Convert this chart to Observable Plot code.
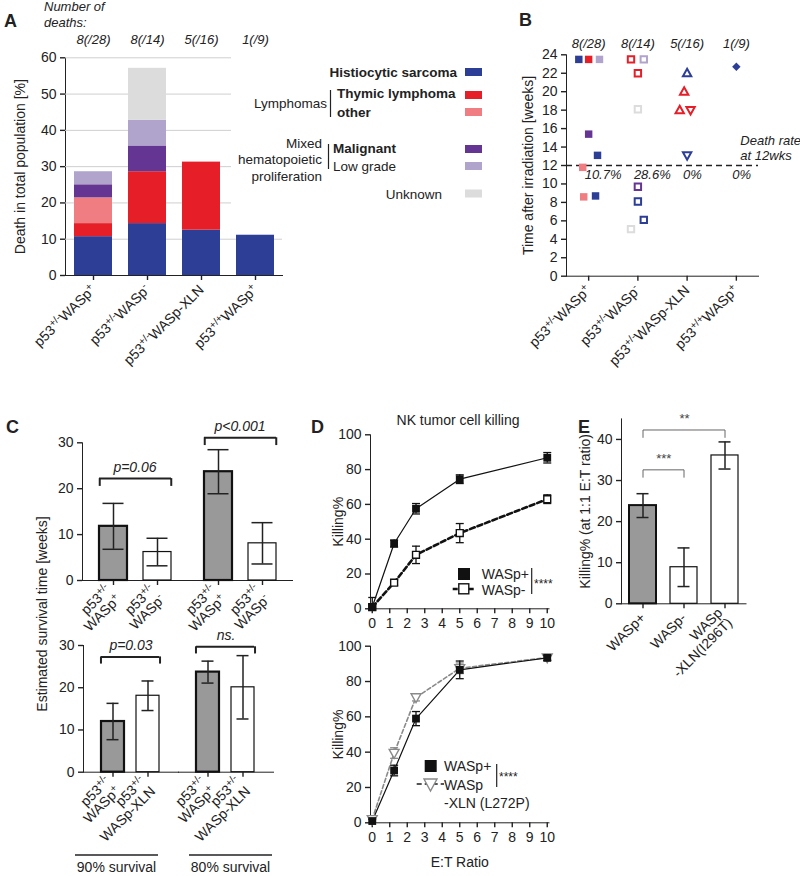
<!DOCTYPE html>
<html>
<head>
<meta charset="utf-8">
<script src="https://cdn.jsdelivr.net/npm/d3@7"></script>
<script src="https://cdn.jsdelivr.net/npm/@observablehq/plot@0.6"></script>
<style>
  html, body { margin: 0; padding: 0; background: #fff; }
  #root { position: relative; width: 800px; height: 876px; overflow: hidden; font-family: "Liberation Sans", Arial, sans-serif; color: #222; }
  #root > svg { position: absolute; overflow: visible; }
  #root svg [aria-label$="-axis tick"] * { stroke-width: 1.4px; }
</style>
</head>
<body>
<div id="root"></div>
<script>
// ================= DATA =================
// Panel A / B shared categories
const genotypes = ["p53+/-WASp+", "p53+/-WASp-", "p53+/-WASp-XLN", "p53+/+WASp+"];
const genotypeLabels = ["p53^{+/-}WASp^{+}", "p53^{+/-}WASp^{-}", "p53^{+/-}WASp-XLN", "p53^{+/+}WASp^{+}"];
const deathCounts = ["8(/28)", "8(/14)", "5(/16)", "1(/9)"];
const diseases = ["Histiocytic sarcoma", "Thymic lymphoma", "other", "Malignant", "Low grade", "Unknown"];
const diseaseColors = ["#2d3e97", "#e61e28", "#f07d82", "#653594", "#b1a4cc", "#dcdcdc"];

// Panel A: death in total population [%] per disease
const histiocyticSarcoma = [10.7, 14.3, 12.5, 11.1];
const thymicLymphoma = [3.6, 14.3, 18.75, 0];
const otherLymphoma = [7.1, 0, 0, 0];
const malignantMHP = [3.6, 7.1, 0, 0];
const lowGradeMHP = [3.6, 7.1, 0, 0];
const unknownCause = [0, 14.3, 0, 0];
const aTicks = [0, 10, 20, 30, 40, 50, 60];

// Panel B: time of death after irradiation [weeks], one entry per mouse
const bGenotypeIdx = [0,0,0,0,0,0,0,0, 1,1,1,1,1,1,1,1, 2,2,2,2,2, 3];
const bJitter =      [-0.2,0,0.22,0,0.18,-0.12,-0.1,0.14, -0.14,0.12,0,0,0,0,0.12,-0.14, 0,-0.06,-0.15,0.07,0, 0];
const bWeeks =       [23.5,23.5,23.5,15.4,13.1,11.8,8.6,8.7, 23.5,23.5,22.0,18.1,9.7,8.1,6.1,5.1, 22.0,20.0,18.0,18.0,13.1, 22.7];
const bDisease = ["Histiocytic sarcoma","Thymic lymphoma","Low grade","Malignant","Histiocytic sarcoma","other","other","Histiocytic sarcoma",
  "Thymic lymphoma","Low grade","Thymic lymphoma","Unknown","Malignant","Histiocytic sarcoma","Histiocytic sarcoma","Unknown",
  "Histiocytic sarcoma","Thymic lymphoma","Thymic lymphoma","Thymic lymphoma","Histiocytic sarcoma",
  "Histiocytic sarcoma"];
const bMarker = ["square","square","square","square","square","square","square","square",
  "square","square","square","square","square","square","square","square",
  "triangle","triangle","triangle","triangleDown","triangleDown",
  "diamond"];
const deathRateCutoff = 12;
const deathRateAt12wks = ["10.7%", "28.6%", "0%", "0%"];
const bTicks = [0,2,4,6,8,10,12,14,16,18,20,22,24];

// Panel C: estimated survival time [weeks]
const survivalGroups = ["90% survival", "80% survival"];
const cTopGenotypes = ["p53^{+/-}\nWASp^{+}", "p53^{+/-}\nWASp^{-}"];
const cTopMean90 = [11.8, 6.2], cTopErr90 = [5.0, 3.0];
const cTopMean80 = [23.7, 8.1], cTopErr80 = [4.8, 4.5];
const cTopPValues = ["p=0.06", "p<0.001"];
const cTopBracketAt = [22.2, 31.1];
const cBottomGenotypes = ["p53^{+/-}\nWASp^{+}", "p53^{+/-}\nWASp-XLN"];
const cBottomMean90 = [12.0, 18.1], cBottomErr90 = [4.3, 3.5];
const cBottomMean80 = [23.7, 20.1], cBottomErr80 = [2.6, 7.5];
const cBottomPValues = ["p=0.03", "ns."];
const cBottomBracketAt = [27.3, 29.7];
const cTicks = [0, 10, 20, 30];

// Panel D: NK tumor cell killing
const etRatio = [0, 1.25, 2.5, 5, 10];
const nkWaspPlus = [1, 37.5, 57.5, 74.5, 86.8];
const nkWaspPlusSem = [1.5, 2, 3, 2.5, 3];
const nkWaspMinus = [1, 15, 31, 43.5, 63];
const nkWaspMinusSem = [5.5, 1.5, 5, 5.5, 2.5];
const nk2WaspPlus = [1, 29.6, 59, 86.6, 93.4];
const nk2WaspPlusSem = [1, 3, 4, 5, 1.5];
const nk2Xln = [2, 39.5, 71, 87.5, 93.6];
const nk2XlnSem = [1, 3, 2, 3, 1.5];
const dXTicks = [0,1,2,3,4,5,6,7,8,9,10];
const dYTicks = [0, 20, 40, 60, 80, 100];

// Panel E: killing at 1:1 E:T ratio
const eGenotypes = ["WASp+", "WASp-", "WASp\n-XLN(I296T)"];
const eKilling = [23.9, 8.9, 36.1];
const eKillingErr = [2.9, 4.7, 3.3];
const eComparisons = [["WASp+", "WASp-"], ["WASp+", "WASp\n-XLN(I296T)"]];
const eSignificance = ["***", "**"];
const eBracketAt = [32.6, 42.3];
const eTicks = [0, 10, 20, 30, 40];

// ================= HELPERS =================
const FONT = '"Liberation Sans", Arial, sans-serif';
const INK = "#222";
const ROOT = document.getElementById("root");
const baseStyle = {fontFamily: FONT, fontSize: "14px", color: INK, background: "transparent", overflow: "visible"};

function applySup(root) {
  const NS = "http://www.w3.org/2000/svg";
  const nodes = Array.from(root.querySelectorAll("text, tspan")).filter(n => n.childElementCount === 0 && n.textContent.includes("^{"));
  for (const n of nodes) {
    const s = n.textContent; n.textContent = "";
    const re = /\^\{([^}]*)\}/g; let last = 0, m;
    const add = (t, sup) => {
      if (!t) return;
      const ts = document.createElementNS(NS, "tspan");
      ts.textContent = t;
      if (sup) { ts.setAttribute("font-size", "72%"); ts.setAttribute("baseline-shift", "super"); }
      n.appendChild(ts);
    };
    while ((m = re.exec(s))) { add(s.slice(last, m.index), false); add(m[1], true); last = re.lastIndex; }
    add(s.slice(last), false);
  }
}
function mount(svg, left, top) {
  svg.style.position = "absolute";
  svg.style.left = left + "px";
  svg.style.top = top + "px";
  ROOT.appendChild(svg);
  applySup(svg);
  svg.querySelectorAll('[aria-label$="-axis label"] text').forEach(t => t.setAttribute("font-size", "14px"));
  return svg;
}
const triUp = {draw(ctx, size) { const r = Math.sqrt(size / Math.PI); ctx.moveTo(0, -r); ctx.lineTo(r * 0.95, r * 0.7); ctx.lineTo(-r * 0.95, r * 0.7); ctx.closePath(); }};
const triDown = {draw(ctx, size) { const r = Math.sqrt(size / Math.PI); ctx.moveTo(0, r); ctx.lineTo(r * 0.95, -r * 0.7); ctx.lineTo(-r * 0.95, -r * 0.7); ctx.closePath(); }};
const capSymbol = {draw(ctx) { ctx.moveTo(-4, 0); ctx.lineTo(4, 0); }};

// ================= PANEL A =================
const aSeries = [histiocyticSarcoma, thymicLymphoma, otherLymphoma, malignantMHP, lowGradeMHP, unknownCause];
const aRows = [];
aSeries.forEach((vals, k) => genotypes.forEach((g, i) => aRows.push({g, disease: diseases[k], v: vals[i]})));
mount(Plot.plot({
  width: 292, height: 395, marginLeft: 65, marginRight: 10, marginTop: 57.3, marginBottom: 120,
  style: baseStyle,
  x: {domain: genotypes, paddingInner: 0.3, paddingOuter: 0.15, tickRotate: -45, tickSize: 5,
      tickFormat: d => genotypeLabels[genotypes.indexOf(d)], label: null, line: true},
  y: {domain: [0, 60], ticks: aTicks, tickSize: 5, label: "Death in total population [%]",
      labelAnchor: "center", labelOffset: 50, labelArrow: "none", line: true},
  color: {domain: diseases, range: diseaseColors},
  marks: [
    Plot.gridY({ticks: aTicks.slice(1), stroke: "#cfcfcf", strokeOpacity: 1}),
    Plot.barY(aRows, {x: "g", y: "v", fill: "disease"}),
    Plot.text(genotypes, {x: d => d, y: () => 60, dy: -18, text: d => deathCounts[genotypes.indexOf(d)], fontStyle: "italic", fontSize: 13})
  ]
}), 0, 0);

// ================= PANEL B =================
const bRows = bWeeks.map((w, i) => ({
  x: bGenotypeIdx[i] + bJitter[i], w,
  color: diseaseColors[diseases.indexOf(bDisease[i])],
  marker: bMarker[i],
  filled: genotypes[bGenotypeIdx[i]].endsWith("WASp+")
}));
const symbols = {square: d3.symbolSquare, triangle: triUp, triangleDown: triDown, diamond: d3.symbolDiamond2};
const markerR = {square: 4.2, triangle: 5, triangleDown: 5, diamond: 3.8};
const bMarks = [];
for (const m of Object.keys(symbols)) {
  const f = bRows.filter(d => d.marker === m && d.filled);
  const o = bRows.filter(d => d.marker === m && !d.filled);
  if (f.length) bMarks.push(Plot.dot(f, {x: "x", y: "w", symbol: symbols[m], r: markerR[m], fill: "color", stroke: "none"}));
  if (o.length) bMarks.push(Plot.dot(o, {x: "x", y: "w", symbol: symbols[m], r: markerR[m] - 0.6, fill: "white", stroke: "color", strokeWidth: 2}));
}
mount(Plot.plot({
  width: 320, height: 400, marginLeft: 86, marginRight: 42, marginTop: 54.3, marginBottom: 124.3,
  style: baseStyle,
  x: {domain: [-0.45, 3.45], ticks: [0, 1, 2, 3], tickFormat: i => genotypeLabels[i], tickRotate: -45, tickSize: 5, label: null, line: true},
  y: {domain: [0, 24], ticks: bTicks, tickSize: 5, label: "Time after irradiation [weeks]",
      labelAnchor: "center", labelOffset: 43, labelArrow: "none", line: true},
  marks: [
    Plot.ruleY([deathRateCutoff], {strokeDasharray: "6,4", strokeWidth: 1.6, stroke: INK}),
    ...bMarks,
    Plot.text(deathCounts, {x: (d, i) => i, y: () => 24, dy: -11, text: d => d, fontStyle: "italic", fontSize: 13}),
    Plot.text(deathRateAt12wks, {x: (d, i) => i, y: () => deathRateCutoff, dy: 9, dx: -4, text: d => d, textAnchor: "start", fontStyle: "italic", fontSize: 13}),
    Plot.text(["Death rate\nat 12wks"], {x: () => 3, y: () => deathRateCutoff, dx: 4, dy: -6, text: d => d, lineAnchor: "bottom", lineHeight: 1.15, textAnchor: "start", fontStyle: "italic", fontSize: 13})
  ]
}), 480, 0);

// ================= PANEL C =================
function survivalPlot(genos, mean90, err90, mean80, err80, pvals, bracketAt, o) {
  const rows = [];
  [[mean90, err90], [mean80, err80]].forEach(([m, e], gi) =>
    genos.forEach((g, i) => rows.push({group: survivalGroups[gi], geno: g, mean: m[i], err: e[i], plus: i === 0})));
  const br = survivalGroups.map((group, gi) => ({group, y: bracketAt[gi], label: pvals[gi]}));
  const facetW = (o.width - 82 - o.marginRight) / 2;
  const step = facetW / (2 - o.pi + 2 * o.po);
  const half = step * (1 - o.pi) / 2;
  return Plot.plot({
    width: o.width, height: o.height, marginLeft: 82, marginRight: o.marginRight, marginTop: o.marginTop, marginBottom: o.marginBottom,
    style: baseStyle,
    fx: {domain: survivalGroups, padding: 0, axis: null},
    x: {domain: genos, paddingInner: o.pi, paddingOuter: o.po, tickRotate: -45, tickSize: 5, label: null, line: true},
    y: {domain: [0, 30], ticks: cTicks, tickSize: 5, label: null, line: true},
    marks: [
      Plot.barY(rows, {fx: "group", x: "geno", y: "mean", fill: d => d.plus ? "#999999" : "white", stroke: "#111", strokeWidth: d => d.plus ? 2.2 : 1.2}),
      Plot.ruleX(rows, {fx: "group", x: "geno", y1: d => d.mean - d.err, y2: d => d.mean + d.err, stroke: INK, strokeWidth: 1.5}),
      Plot.tickY(rows, {fx: "group", x: "geno", y: d => d.mean + d.err, insetLeft: o.capInset, insetRight: o.capInset, stroke: INK, strokeWidth: 1.5}),
      Plot.tickY(rows, {fx: "group", x: "geno", y: d => d.mean - d.err, insetLeft: o.capInset, insetRight: o.capInset, stroke: INK, strokeWidth: 1.5}),
      Plot.ruleY(br, {fx: "group", y: "y", x1: () => genos[0], x2: () => genos[1], stroke: INK, strokeWidth: 2}),
      Plot.ruleX(br, {fx: "group", x: () => genos[0], y1: d => d.y - o.drop, y2: "y", dx: -half, stroke: INK, strokeWidth: 2}),
      Plot.ruleX(br, {fx: "group", x: () => genos[1], y1: d => d.y - o.drop, y2: "y", dx: half, stroke: INK, strokeWidth: 2}),
      Plot.text(br, {fx: "group", y: "y", text: "label", dy: -11, frameAnchor: "middle", fontStyle: "italic", fontSize: 14})
    ]
  });
}
mount(survivalPlot(cTopGenotypes, cTopMean90, cTopErr90, cTopMean80, cTopErr80, cTopPValues, cTopBracketAt,
  {width: 300, height: 240, marginRight: 8, marginTop: 42.3, marginBottom: 60, pi: 0.375, po: 0.38, capInset: 3.5, drop: 1.7}), 0, 400);
mount(survivalPlot(cBottomGenotypes, cBottomMean90, cBottomErr90, cBottomMean80, cBottomErr80, cBottomPValues, cBottomBracketAt,
  {width: 290, height: 215, marginRight: 17, marginTop: 15, marginBottom: 73.3, pi: 0.333, po: 0.49, capInset: 5.5, drop: 1.7}), 0, 630);

// ================= PANEL D =================
const styleWaspPlus = {color: "#111", lineWidth: 1.2, dash: null, symbol: d3.symbolSquare, r: 4.4, filled: true};
const styleWaspMinus = {color: "#111", lineWidth: 2.6, dash: "5,3", symbol: d3.symbolSquare, r: 3.9, filled: false};
const styleXln = {color: "#8a8a8a", lineWidth: 1.6, dash: "4,2.5", symbol: triDown, r: 5.2, filled: false};
function killingPlot(seriesList, o) {
  const marks = [];
  const rowsOf = s => etRatio.map((et, i) => ({et, k: s.values[i], e: s.errs[i]}));
  for (const s of seriesList) {
    const st = s.style;
    marks.push(Plot.line(rowsOf(s), {x: "et", y: "k", stroke: st.color, strokeWidth: st.lineWidth, strokeDasharray: st.dash || undefined}));
  }
  for (const s of seriesList) {
    const st = s.style, rows = rowsOf(s);
    marks.push(Plot.ruleX(rows, {x: "et", y1: d => Math.max(0, d.k - d.e), y2: d => d.k + d.e, stroke: st.color, strokeWidth: 1.3}));
    marks.push(Plot.dot(rows, {x: "et", y: d => d.k + d.e, symbol: capSymbol, fill: "none", stroke: st.color, strokeWidth: 1.3}));
    marks.push(Plot.dot(rows.filter(d => d.k - d.e > 0), {x: "et", y: d => d.k - d.e, symbol: capSymbol, fill: "none", stroke: st.color, strokeWidth: 1.3}));
    marks.push(Plot.dot(rows, {x: "et", y: "k", symbol: st.symbol, r: st.r, fill: st.filled ? st.color : "white", stroke: st.filled ? "none" : st.color, strokeWidth: 1.4}));
  }
  return Plot.plot({
    width: 260, height: o.height, marginLeft: 70, marginRight: 11.5, marginTop: o.marginTop, marginBottom: o.marginBottom,
    style: baseStyle,
    x: {domain: [-0.1, 10.1], ticks: dXTicks, tickSize: 5, line: true, label: o.xLabel || null, labelAnchor: "center", labelOffset: 44, labelArrow: "none"},
    y: {domain: [0, 100], ticks: dYTicks, tickSize: 5, line: true, label: "Killing%", labelAnchor: "center", labelOffset: 37, labelArrow: "none"},
    marks
  });
}
mount(killingPlot([
  {name: "WASp-", values: nkWaspMinus, errs: nkWaspMinusSem, style: styleWaspMinus},
  {name: "WASp+", values: nkWaspPlus, errs: nkWaspPlusSem, style: styleWaspPlus}
], {height: 245, marginTop: 34.3, marginBottom: 36.7}), 300, 400);
mount(killingPlot([
  {name: "WASp-XLN (L272P)", values: nk2Xln, errs: nk2XlnSem, style: styleXln},
  {name: "WASp+", values: nk2WaspPlus, errs: nk2WaspPlusSem, style: styleWaspPlus}
], {height: 246, marginTop: 15.7, marginBottom: 53.7, xLabel: "E:T Ratio"}), 300, 630);

// ================= PANEL E =================
const eRows = eGenotypes.map((g, i) => ({g, m: eKilling[i], e: eKillingErr[i], plus: i === 0}));
const eBr = eComparisons.flatMap(([a, b], i) => [
  {z: i, x: a, y: eBracketAt[i] - 1.8}, {z: i, x: a, y: eBracketAt[i]},
  {z: i, x: b, y: eBracketAt[i]}, {z: i, x: b, y: eBracketAt[i] - 1.8}]);
const eW = 225, eML = 46, eMR = 54.5, ePI = 0.33, ePO = 0.165;
const eStep = (eW - eML - eMR) / (eGenotypes.length - ePI + 2 * ePO);
mount(Plot.plot({
  width: eW, height: 280, marginLeft: eML, marginRight: eMR, marginTop: 18.4, marginBottom: 76.7,
  style: baseStyle,
  x: {domain: eGenotypes, paddingInner: ePI, paddingOuter: ePO, tickRotate: -45, tickSize: 5, label: null, line: true},
  y: {domain: [0, 45], ticks: eTicks, tickSize: 5, line: true, label: "Killing% (at 1:1 E:T ratio)", labelAnchor: "center", labelOffset: 41, labelArrow: "none"},
  marks: [
    Plot.barY(eRows, {x: "g", y: "m", fill: d => d.plus ? "#999999" : "white", stroke: "#111", strokeWidth: d => d.plus ? 2 : 1.2}),
    Plot.ruleX(eRows, {x: "g", y1: d => d.m - d.e, y2: d => d.m + d.e, stroke: INK, strokeWidth: 1.5}),
    Plot.tickY(eRows, {x: "g", y: d => d.m + d.e, insetLeft: 7.5, insetRight: 7.5, stroke: INK, strokeWidth: 1.5}),
    Plot.tickY(eRows, {x: "g", y: d => d.m - d.e, insetLeft: 7.5, insetRight: 7.5, stroke: INK, strokeWidth: 1.5}),
    Plot.line(eBr, {x: "x", y: "y", z: "z", stroke: "#666", strokeWidth: 1}),
    ...eComparisons.map(([a, b], i) => Plot.text([eSignificance[i]], {
      x: () => a, y: () => eBracketAt[i], text: d => d, dy: -11,
      dx: (eGenotypes.indexOf(b) - eGenotypes.indexOf(a)) * eStep / 2, fontSize: 13, fill: "#444"}))
  ]
}), 575, 400);

// ================= OVERLAY: panel letters, legends, annotations =================
const ov = d3.create("svg").attr("width", 800).attr("height", 876)
  .style("left", "0px").style("top", "0px").style("font-family", FONT).attr("fill", INK);
function txt(x, y, s, a = {}) {
  const e = ov.append("text").attr("x", x).attr("y", y).attr("font-size", a.size || 14).text(s);
  if (a.anchor) e.attr("text-anchor", a.anchor);
  if (a.bold) e.attr("font-weight", "bold");
  if (a.italic) e.attr("font-style", "italic");
  if (a.fill) e.attr("fill", a.fill);
  return e;
}
function seg(x1, y1, x2, y2, w = 1.3, color = INK, dash = null) {
  const e = ov.append("line").attr("x1", x1).attr("y1", y1).attr("x2", x2).attr("y2", y2).attr("stroke", color).attr("stroke-width", w);
  if (dash) e.attr("stroke-dasharray", dash);
  return e;
}
// Panel A legend (white box covers the upper gridlines)
ov.append("rect").attr("x", 231).attr("y", 50).attr("width", 265).attr("height", 165).attr("fill", "white");
const legendSwatchY = [72, 95, 112, 149, 166, 193.5];
diseases.forEach((d, i) => ov.append("rect").attr("x", 465).attr("y", legendSwatchY[i] - 4).attr("width", 17).attr("height", 8).attr("fill", diseaseColors[i]));
txt(457, 76.5, diseases[0], {anchor: "end", bold: true, size: 13.5});
txt(327, 107.5, "Lymphomas", {anchor: "end", size: 13.5});
seg(330.5, 90, 330.5, 117, 1.2);
txt(337, 98, diseases[1], {bold: true, size: 13.5});
txt(337, 117, diseases[2], {bold: true, size: 13.5});
txt(322, 147.5, "Mixed", {anchor: "end", size: 13.5});
txt(322, 164, "hematopoietic", {anchor: "end", size: 13.5});
txt(322, 180.5, "proliferation", {anchor: "end", size: 13.5});
seg(328.5, 144, 328.5, 169, 1.2);
txt(333, 153, diseases[3], {bold: true, size: 13.5});
txt(333, 170.5, diseases[4], {size: 13.5});
txt(442, 198.5, diseases[5], {anchor: "end", size: 13.5});
txt(44, 11, "Number of", {italic: true, size: 13});
txt(44, 27, "deaths:", {italic: true, size: 13});

// Panel letters
[["A", 4, 27], ["B", 519, 26], ["C", 6, 433], ["D", 311, 433], ["E", 578, 433]]
  .forEach(([l, x, y]) => txt(x, y, l, {bold: true, size: 18}));

// Panel C shared y label and group labels
ov.append("text").attr("transform", "translate(47,614) rotate(-90)").attr("text-anchor", "middle").attr("font-size", 14).text("Estimated survival time [weeks]");
[[75, 158], [189, 272]].forEach(([x1, x2], i) => {
  seg(x1, 855, x2, 855, 1.6);
  txt((x1 + x2) / 2, 872, survivalGroups[i], {anchor: "middle", size: 14});
});

// Panel D title and legends
txt(458, 424.5, "NK tumor cell killing", {anchor: "middle", size: 14});
ov.append("rect").attr("x", 458).attr("y", 568).attr("width", 12).attr("height", 12).attr("fill", "#111");
txt(481.7, 579, "WASp+", {size: 14});
seg(452.7, 589, 476.7, 589, 2.6, "#111", "5,3");
ov.append("rect").attr("x", 458.8).attr("y", 583.8).attr("width", 10).attr("height", 10).attr("fill", "white").attr("stroke", "#111").attr("stroke-width", 1.4);
txt(481.7, 595, "WASp-", {size: 14});
seg(531.7, 568, 531.7, 594, 1.2);
txt(534, 588, "****", {size: 12});

ov.append("rect").attr("x", 424.7).attr("y", 760).attr("width", 12).attr("height", 12).attr("fill", "#111");
txt(444, 771, "WASp+", {size: 14});
seg(416.7, 784, 444, 784, 2.2, "#555", "5,3");
ov.append("path").attr("d", "M424,779L437,779L430.5,791Z").attr("fill", "white").attr("stroke", "#8a8a8a").attr("stroke-width", 1.4);
txt(444, 789.5, "WASp", {size: 14});
txt(444, 807.5, "-XLN (L272P)", {size: 14});
seg(496.7, 764, 496.7, 787, 1.2);
txt(499, 781, "****", {size: 12});

ROOT.appendChild(ov.node());
applySup(ov.node());
</script>
</body>
</html>
